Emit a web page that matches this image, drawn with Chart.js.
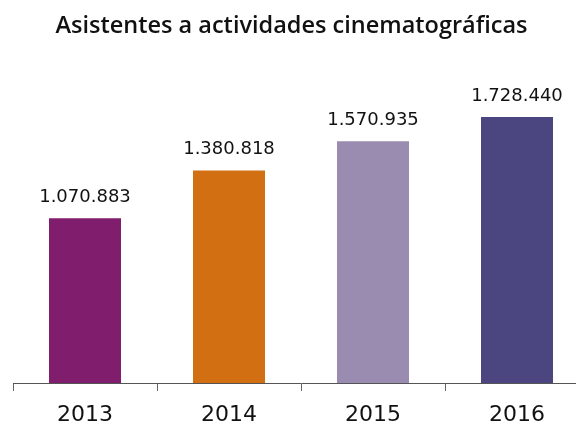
<!DOCTYPE html>
<html>
<head>
<meta charset="utf-8">
<script src="https://cdn.jsdelivr.net/npm/chart.js@4"></script>
<style>
  html, body { margin: 0; padding: 0; overflow: hidden; background: #fff; }
  #cineChart { display: block; margin-left: -6px; }
</style>
</head>
<body>
<canvas id="cineChart" width="595" height="426"></canvas>
<script>
const years = ["2013", "2014", "2015", "2016"];
const attendees = [1070883, 1380818, 1570935, 1728440];
const barColors = ["#811d6d", "#d26f12", "#9a8bb0", "#4b4580"];

function formatDots(n) {
  return String(n).replace(/\B(?=(\d{3})+(?!\d))/g, ".");
}

// numbers above the bars
const valueLabels = {
  id: "valueLabels",
  afterDatasetsDraw(chart) {
    const ctx = chart.ctx;
    const meta = chart.getDatasetMeta(0);
    ctx.save();
    ctx.font = "18px 'DejaVu Sans'";
    ctx.fillStyle = "#111";
    ctx.textAlign = "center";
    ctx.textBaseline = "alphabetic";
    meta.data.forEach((bar, i) => {
      ctx.fillText(formatDots(attendees[i]), bar.x, bar.y - 16);
    });
    ctx.restore();
  }
};

const ctx = document.getElementById("cineChart").getContext("2d");
new Chart(ctx, {
  type: "bar",
  data: {
    labels: years,
    datasets: [{
      data: attendees,
      backgroundColor: barColors,
      barPercentage: 0.5,
      categoryPercentage: 1.0
    }]
  },
  options: {
    responsive: false,
    animation: false,
    layout: { padding: { left: 0, right: 0, top: 0, bottom: -13 } },
    plugins: {
      legend: { display: false },
      tooltip: { enabled: false },
      title: {
        display: true,
        text: "Asistentes a actividades cinematográficas",
        color: "#111",
        font: { family: "'Open Sans'", size: 23.5, weight: "600", lineHeight: 1.2 },
        padding: { top: 12, bottom: 35 }
      }
    },
    scales: {
      x: {
        grid: {
          display: true,
          drawOnChartArea: false,
          drawTicks: true,
          tickLength: 8,
          color: "#666",
          offset: true
        },
        border: { display: true, color: "#555", width: 1 },
        ticks: {
          color: "#111",
          padding: 13,
          font: { family: "'DejaVu Sans'", size: 22, lineHeight: 1 }
        }
      },
      y: {
        display: true,
        min: 0,
        max: 2000000,
        grid: { display: false },
        border: { display: false },
        ticks: { display: false },
        afterFit(scale) { scale.width = 19; }
      }
    }
  },
  plugins: [valueLabels]
});
</script>
</body>
</html>
